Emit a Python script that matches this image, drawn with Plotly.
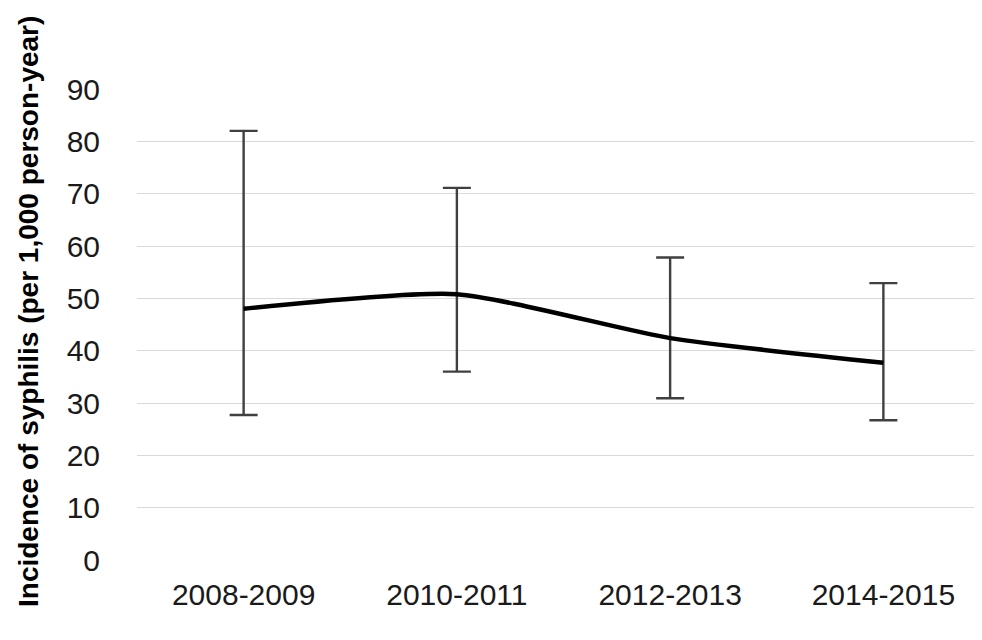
import plotly.graph_objects as go

categories = ["2008-2009", "2010-2011", "2012-2013", "2014-2015"]
incidence = [48.0, 50.8, 42.4, 37.7]
upper_ci = [82.0, 71.1, 57.8, 52.9]
lower_ci = [27.7, 36.0, 30.9, 26.7]
y_title = "Incidence of syphilis (per 1,000 person-year)"

err_plus = [u - m for u, m in zip(upper_ci, incidence)]
err_minus = [m - l for m, l in zip(incidence, lower_ci)]

fig = go.Figure()
fig.add_trace(go.Scatter(
    x=categories, y=incidence, mode="lines",
    line=dict(color="#000000", width=4.5, shape="spline", smoothing=0.6),
    error_y=dict(type="data", symmetric=False, array=err_plus, arrayminus=err_minus,
                 color="#404040", thickness=2.4, width=14),
    showlegend=False,
))

L, R, T, B = 129, 0, 81, 88
fig.update_layout(
    width=982, height=640,
    paper_bgcolor="white", plot_bgcolor="white",
    margin=dict(l=L, r=R, t=T, b=B),
    font=dict(family="Liberation Sans, Arial, sans-serif", size=30, color="#000000"),
    xaxis=dict(type="category", showgrid=False, showline=False, ticks="",
               tickfont=dict(size=30, color="#1a1a1a"), range=[-0.5, 3.5],
               ticklabelstandoff=14),
    yaxis=dict(range=[0, 90], dtick=10, showgrid=True, gridcolor="#d9d9d9", gridwidth=1,
               zeroline=False, showline=False, ticks="",
               ticklabelstandoff=36,
               tickfont=dict(size=30, color="#1a1a1a")),
)

plot_w = 982 - L - R
fig.add_annotation(
    text="<b>" + y_title + "</b>", textangle=-90, showarrow=False,
    xref="paper", yref="paper",
    x=(28 - 8 - L) / plot_w, y=(560 - 312) / (560 - 89),
    xanchor="center", yanchor="middle",
    font=dict(size=28, color="#000000", family="Liberation Sans, Arial, sans-serif"),
)

fig.write_html("out.html")
